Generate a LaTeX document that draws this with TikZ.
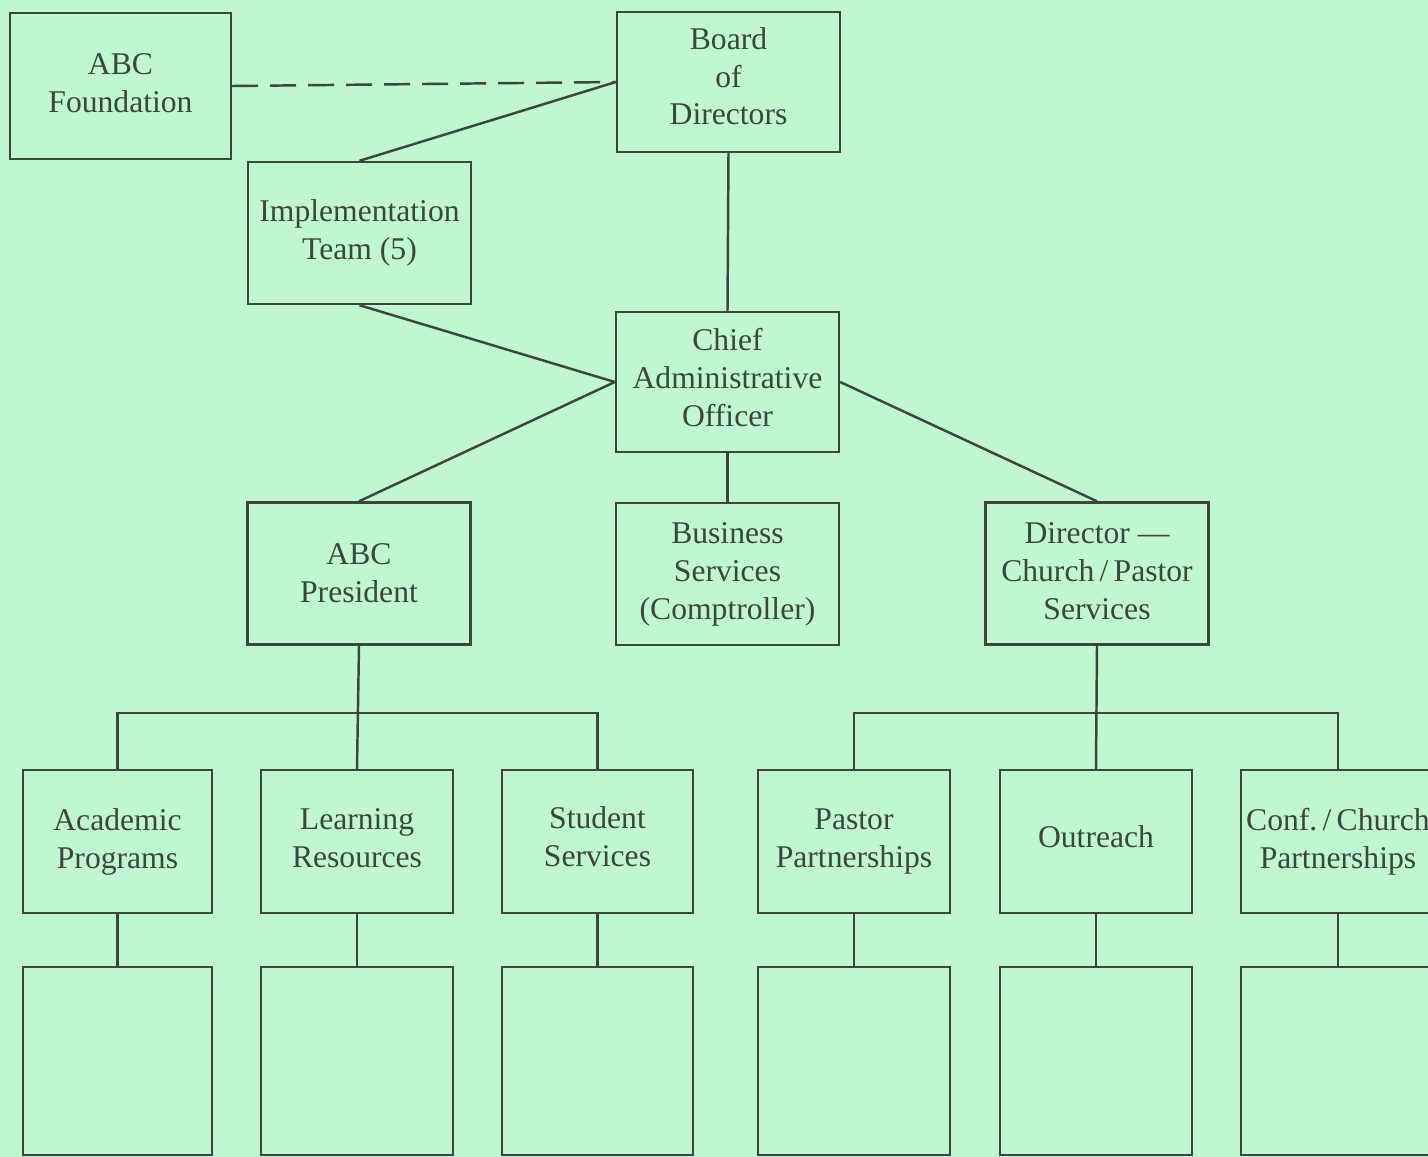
\documentclass[tikz,border=0pt]{standalone}
\usepackage{fontspec}
\setmainfont{Liberation Serif}
\usepackage{tikz}
\usetikzlibrary{calc}
\definecolor{mint}{RGB}{191,247,209}
\definecolor{ink}{RGB}{58,70,62}
\newcommand{\lift}[1]{\rule[-#1]{0pt}{#1}}

\tikzset{
  unit/.style={draw=ink, line width=1.4pt, align=center, text=ink, inner sep=0pt,
    font=\fontsize{18}{21.6}\selectfont},
  bigunit/.style={unit, minimum width=4.46cm, minimum height=2.84cm},
  dept/.style={unit, minimum width=3.84cm, minimum height=2.86cm},
  blank/.style={unit, minimum width=3.84cm, minimum height=3.76cm},
  link/.style={draw=ink, line width=1.4pt},
}

\begin{document}
\begin{tikzpicture}[x=0.02cm, y=-0.02cm]
     \useasboundingbox (0,0) rectangle (1428,1157);
     \fill [mint](0,0) rectangle(1428,1157);
     % top
     \node[bigunit, minimum width=4.42cm, minimum height=2.92cm] (found) at (120.5,86) {ABC\\Foundation\lift{3pt}};
     \node[bigunit, minimum height=2.8cm] (board) at (728.5,82) {Board\\of\\Directors\lift{6.8pt}};
     \node[bigunit] (impl) at (359.5,233) {Implementation\\Team (5)};
     \node[bigunit, minimum height=2.8cm] (cao) at (727.5,382) {Chief\\Administrative\\Officer\lift{5.6pt}};
     % second row
     \node[bigunit] (pres) at (359,573.5) {ABC\\President};
     \node[bigunit] (bus) at (727.5,574) {Business\\Services\\(Comptroller)};
     \node[bigunit] (dir) at (1097,573.5) {Director ---\\Church\thinspace/\thinspace Pastor\\Services\lift{2.5pt}};
     % departments
     \node[dept, minimum width=3.78cm] (acad) at (117.5,841.5) {Academic\\Programs};
     \node[dept] (learn) at (357,841.5) {Learning\\Resources\lift{4pt}};
     \node[dept, minimum width=3.82cm] (stud) at (597.5,841.5) {Student\\Services\lift{5.4pt}};
     \node[dept] (pastor) at (854,841.5) {Pastor\\Partnerships};
     \node[dept] (outr) at (1096,841.5) {Outreach\lift{5.4pt}};
     \node[dept, minimum width=3.88cm] (conf) at (1338,841.5) {Conf.\thinspace/\thinspace Church\\Partnerships};
     % empty boxes
     \node[blank, minimum width=3.78cm] (acadx) at (117.5,1061) {};
     \node[blank] (learnx) at (357,1061) {};
     \node[blank, minimum width=3.82cm] (studx) at (597.5,1061) {};
     \node[blank] (pastorx) at (854,1061) {};
     \node[blank] (outrx) at (1096,1061) {};
     \node[blank, minimum width=3.88cm] (confx) at (1338,1061) {};

     \draw[link, dash pattern=on 0.52cm off 0.24cm] (found.east) -- (board.west);
     \draw[link] (impl.north) -- (board.west);
     \draw[link] (board.south) -- (cao.north);
     \draw[link] (impl.south) -- (cao.west);
     \draw[link] (pres.north) -- (cao.west);
     \draw[link] (cao.south) -- (bus.north);
     \draw[link] (cao.east) -- (dir.north);
     \draw[link] (pres.south) -- (learn.north);
     \draw[link] (acad.north) -- ++(0,-56) -| (stud.north);
     \draw[link] (dir.south) -- (outr.north);
     \draw[link] (pastor.north) -- ++(0,-56) -| (conf.north);
     \foreach \dep in {acad,learn,stud,pastor,outr,conf}
        \draw[link] (\dep.south) -- (\dep x.north);
\end{tikzpicture}
\end{document}
